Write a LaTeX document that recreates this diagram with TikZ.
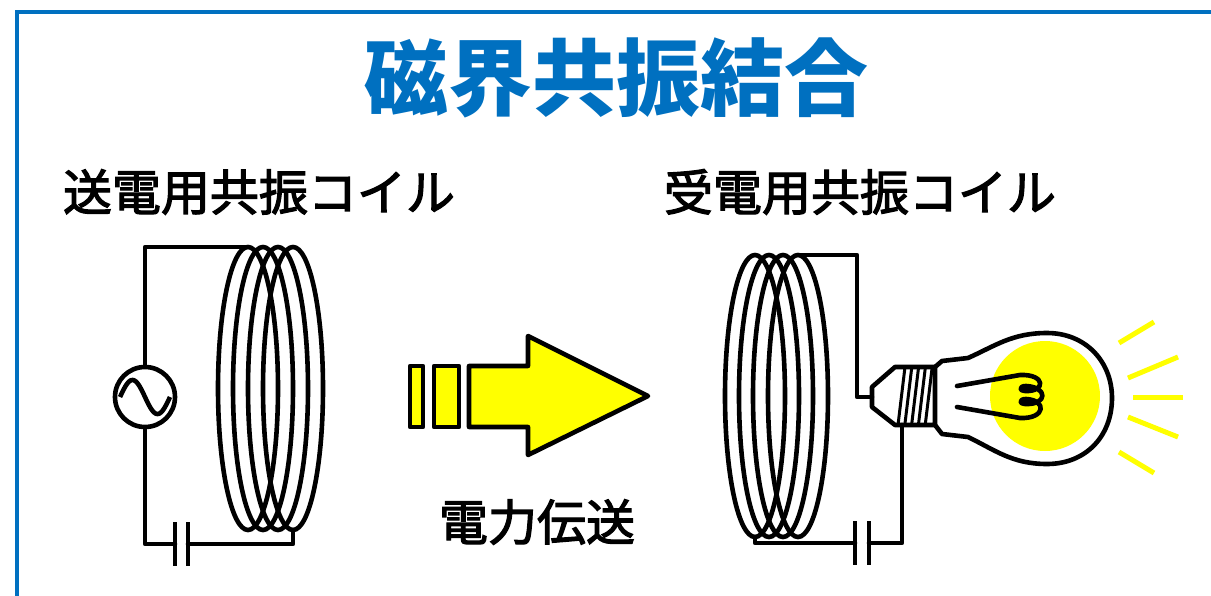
\documentclass[tikz,border=0pt]{standalone}
\usepackage{fontspec}
\newfontfamily\cjk{Noto Sans CJK JP}
\newfontfamily\cjkmed{Noto Sans CJK JP}[FakeBold=2.5]
\usetikzlibrary{calc}
\definecolor{frameblue}{RGB}{0,112,192}
\definecolor{lampyellow}{RGB}{255,255,0}
\begin{document}
\begin{tikzpicture}[x=1pt,y=-1pt,
  wire/.style={line width=4.6pt,line join=round,line cap=round},
  coilloop/.style={line width=4.6pt},
  arrowpart/.style={fill=lampyellow,draw=black,line width=4.6pt,line join=round},
  ray/.style={draw=lampyellow,line width=5pt},
  heading/.style={font=\cjk\bfseries\fontsize{84}{84}\selectfont,text=frameblue,inner sep=0pt},
  caption/.style={font=\cjkmed\fontsize{49}{49}\selectfont,inner sep=0pt}]
\useasboundingbox (0,0) rectangle (1211,595);
\clip (0,0) rectangle (1211,595);

% frame
\draw[frameblue,line width=4.5pt] (17,12) rectangle (1260,650);

% texts
\node[heading] (title) at (616,78) {磁界共振結合};
\node[caption] (txleft) at (259,192) {送電用共振コイル};
\node[caption] (txright) at (860,192) {受電用共振コイル};
\node[caption] (txpower) at (537,522) {電力伝送};

% ---------------- transmitting side ----------------
\foreach \cx in {248,263,278,293}
  \draw[coilloop] (\cx,388.5) ellipse [x radius=30,y radius=141.5];
\coordinate (ltop) at (248,247);
\coordinate (lbot) at (293,530);
\coordinate (lcorner1) at (145,247);
\coordinate (lcorner2) at (145,544);
\coordinate (lcorner3) at (293,544);
\node[draw,circle,line width=4.6pt,minimum size=60pt,inner sep=0pt] (src) at (145,397) {};
\draw[line width=4.6pt] plot[domain=-25:25,samples=60,smooth] ({145+\x},{397+17*sin(180*\x/25)});
\coordinate (lcapA) at (175,544);
\coordinate (lcapB) at (188,544);
\draw[wire] (ltop) -- (lcorner1) -- (src.north);
\draw[wire] (src.south) -- (lcorner2) -- (lcapA);
\draw[wire] (lcapB) -- (lcorner3) -- (lbot);
\draw[line width=4.6pt] ($(lcapA)+(0,-22)$) -- ($(lcapA)+(0,22)$);
\draw[line width=4.6pt] ($(lcapB)+(0,-22)$) -- ($(lcapB)+(0,22)$);

% ---------------- arrow ----------------
\draw[arrowpart] (410,366) rectangle (423,427);
\draw[arrowpart] (434,366) rectangle (459,427);
\draw[arrowpart] (469,366) -- (528,366) -- (528,336) -- (648,396) -- (528,455) -- (528,427) -- (469,427) -- cycle;

% ---------------- receiving side ----------------
\foreach \cx in {755,769,783,798}
  \draw[coilloop] (\cx,396) ellipse [x radius=30,y radius=141];
\coordinate (rtop) at (798,255);
\coordinate (rbot) at (755,537);
\coordinate (rcorner1) at (857,255);
\coordinate (rcorner2) at (857,397);
\coordinate (rcorner3) at (755,543);
\coordinate (rcorner4) at (902,543);
\coordinate (rcapA) at (855,543);
\coordinate (rcapB) at (869,543);

% lamp
\coordinate (tip) at (872,397);
\coordinate (basebot) at (902,425);
\fill[lampyellow] (1045,396) circle (55);
\draw[line width=4.6pt,line join=round]
  (935,367) -- (895,367) -- (872,387) -- (872,407) -- (895,425) -- (935,425) -- cycle;
\foreach \b in {0,1,2,3,4}
  \draw[line width=3pt] ({898+6.8*\b},425) -- ({905+6.8*\b},367);
\draw[line width=4.6pt,line join=round]
  (935,367) -- (942,361) -- (968,358)
  .. controls (995,346) and (1012,333) .. (1047,333)
  .. controls (1086,333) and (1112,362) .. (1112,398)
  .. controls (1112,436) and (1086,464) .. (1047,464)
  .. controls (1012,464) and (995,450) .. (968,437)
  -- (942,434) -- (935,425);
\draw[line width=4.6pt,line join=round,line cap=round]
  (957,386) -- (1020,375)
  .. controls (1046,374) and (1046,392) .. (1025,391)
  .. controls (1019,391) and (1019,386) .. (1026,386)
  .. controls (1048,387) and (1048,405) .. (1025,404)
  .. controls (1019,404) and (1019,399) .. (1026,399)
  .. controls (1047,400) and (1046,419) .. (1020,418)
  -- (957,407);

\draw[wire] (rtop) -- (rcorner1) -- (rcorner2) -- (tip);
\draw[wire] (rbot) -- (rcorner3) -- (rcapA);
\draw[wire] (rcapB) -- (rcorner4) -- (basebot);
\draw[line width=4.6pt] ($(rcapA)+(0,-22)$) -- ($(rcapA)+(0,22)$);
\draw[line width=4.6pt] ($(rcapB)+(0,-22)$) -- ($(rcapB)+(0,22)$);

% light rays
\coordinate (glow) at (1045,396);
\draw[ray] (1119,343) -- (1154,322);
\draw[ray] (1128,378) -- (1178,357);
\draw[ray] (1133,397) -- (1183,397);
\draw[ray] (1128,417) -- (1178,437);
\draw[ray] (1119,452) -- (1154,473);
\end{tikzpicture}
\end{document}
